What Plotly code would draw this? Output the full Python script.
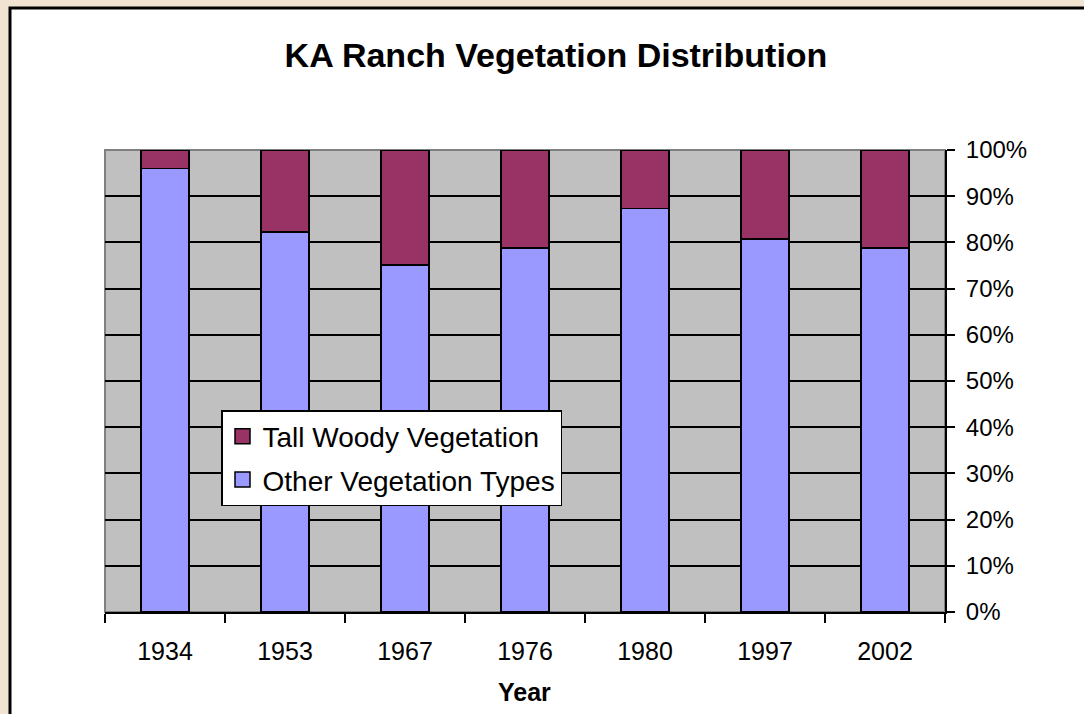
import plotly.graph_objects as go

years = ["1934", "1953", "1967", "1976", "1980", "1997", "2002"]
other_pct = [96, 82.2, 75.1, 78.8, 87.3, 80.7, 78.8]
woody_pct = [round(100 - v, 1) for v in other_pct]
y_ticks = list(range(0, 101, 10))

FONT = "Liberation Sans, Arial, sans-serif"
BEIGE = "#f1e3d2"
C_OTHER = "#9999ff"
C_WOODY = "#993366"

fig = go.Figure()
fig.add_trace(go.Bar(
    x=years, y=other_pct, name="Other Vegetation Types",
    marker=dict(color=C_OTHER, line=dict(color="black", width=1.5)),
    showlegend=False,
))
fig.add_trace(go.Bar(
    x=years, y=woody_pct, name="Tall Woody Vegetation",
    marker=dict(color=C_WOODY, line=dict(color="black", width=1.5)),
    showlegend=False,
))
# legend-only entries with larger square swatches
for name, col, grp, rank in [("Tall Woody Vegetation", C_WOODY, "a", 1),
                             ("Other Vegetation Types", C_OTHER, "b", 2)]:
    fig.add_trace(go.Scatter(
        x=[years[0]], y=[None], mode="markers", name=name,
        marker=dict(symbol="square", size=15, color=col,
                    line=dict(color="black", width=1.5)),
        legendgroup=grp, legendrank=rank, hoverinfo="skip",
    ))

L, R, T, B = 105, 945, 150, 612
W, H = 1084, 714
pw, ph = R - L, B - T

def px2x(px):
    return (px - L) / pw

def py2y(py):
    return (B - py) / ph

shapes = [
    dict(type="rect", xref="paper", yref="paper", layer="below",
         x0=px2x(10), x1=px2x(1100), y0=py2y(730), y1=py2y(8),
         fillcolor="white", line=dict(color="black", width=3)),
    dict(type="rect", xref="paper", yref="paper", layer="below",
         x0=0, x1=1, y0=0, y1=1,
         fillcolor="#c0c0c0", line=dict(color="#808080", width=2)),
]

fig.update_layout(
    width=W, height=H,
    margin=dict(l=L, r=W - R, t=T, b=H - B, pad=0),
    paper_bgcolor=BEIGE,
    plot_bgcolor="rgba(0,0,0,0)",
    barmode="stack",
    bargap=0.6,
    shapes=shapes,
    font=dict(family=FONT, color="black"),
    title=dict(text="<b>KA Ranch Vegetation Distribution</b>",
               x=556 / W, xref="container", xanchor="center",
               y=1 - 55 / H, yref="container", yanchor="middle",
               font=dict(size=34, family=FONT, color="black")),
    legend=dict(x=px2x(221), y=py2y(410), xanchor="left", yanchor="top",
                bgcolor="white", bordercolor="black", borderwidth=1.5,
                font=dict(size=28, family=FONT, color="black"),
                traceorder="grouped", tracegroupgap=4,
                itemwidth=30),
    showlegend=True,
    annotations=[dict(text="<b>Year</b>", x=px2x(524), y=py2y(692),
                      xref="paper", yref="paper", showarrow=False,
                      font=dict(size=25, family=FONT, color="black"),
                      xanchor="center", yanchor="middle")],
)

fig.update_xaxes(
    type="category", tickson="boundaries",
    ticks="outside", ticklen=9, tickwidth=1.5, tickcolor="black",
    showline=True, linecolor="black", linewidth=2,
    showgrid=False, tickfont=dict(size=25, family=FONT, color="black"),
    ticklabelstandoff=16,
)
fig.update_yaxes(
    side="right", range=[0, 100], tickvals=y_ticks,
    ticktext=[f"{v}%" for v in y_ticks],
    ticks="outside", ticklen=8, tickwidth=1.5, tickcolor="black",
    showline=True, linecolor="black", linewidth=2,
    showgrid=True, gridcolor="black", gridwidth=1.5,
    zeroline=False, ticklabelstandoff=6,
    tickfont=dict(size=24, family=FONT, color="black"),
)

fig.write_html(
    "out.html",
    config={"displayModeBar": False},
    post_script=(
        "document.body.style.margin='0';"
        f"document.body.style.background='{BEIGE}';"
    ),
)
